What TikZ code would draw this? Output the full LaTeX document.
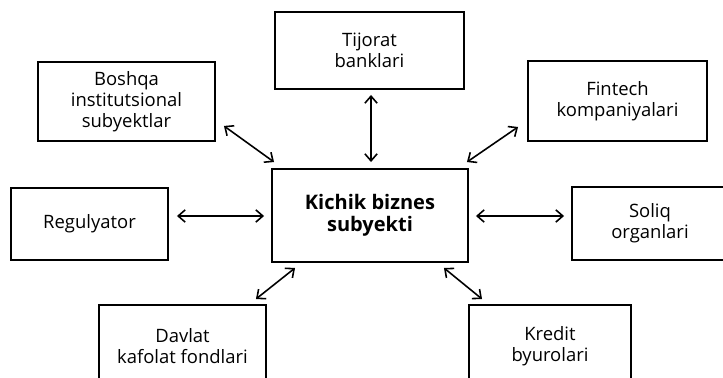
\documentclass[tikz,border=0pt]{standalone}
\usepackage{fontspec}
\setmainfont{Open Sans}
\usetikzlibrary{arrows.meta}

\begin{document}
\begin{tikzpicture}[
    x=0.02cm, y=-0.02cm,
    font=\fontsize{10.5}{11.8}\selectfont,
    box/.style={draw, line width=1.1pt, align=center, inner sep=0pt},
    hub/.style={box, font=\fontsize{11.4}{12.8}\selectfont\bfseries},
    link/.style={line width=0.9pt, {Straight Barb[length=4pt,width=7pt]}-{Straight Barb[length=4pt,width=7pt]}},
]

% Frame
\useasboundingbox (0,0) rectangle (723,378);

% Central node
\node[hub, minimum width=196*0.02cm, minimum height=93*0.02cm] (kbs) at (370,215.5) {Kichik biznes\\subyekti};

% Surrounding nodes
\node[box, minimum width=189*0.02cm, minimum height=77*0.02cm] (tijorat) at (369.5,50.5) {Tijorat\\banklari};
\node[box, minimum width=177*0.02cm, minimum height=79*0.02cm] (boshqa) at (126.5,101.5) {Boshqa\\institutsional\\subyektlar};
\node[box, minimum width=179*0.02cm, minimum height=80*0.02cm] (fintech) at (617.5,101) {Fintech\\kompaniyalari};
\node[box, minimum width=157*0.02cm, minimum height=72*0.02cm] (regul) at (89.5,224) {Regulyator};
\node[box, minimum width=156*0.02cm, minimum height=73*0.02cm] (soliq) at (650,223.5) {Soliq\\organlari};
\node[box, minimum width=167*0.02cm, minimum height=82*0.02cm] (davlat) at (182.5,346) {Davlat\\kafolat fondlari};
\node[box, minimum width=162*0.02cm, minimum height=82*0.02cm] (kredit) at (550,346) {Kredit\\byurolari};

% Links
\draw[link] ([shift={(8,-16)}]boshqa.south east) -- ([shift={(3,-6)}]kbs.north west);
\draw[link] ([shift={(1.5,5)}]tijorat.south) -- ([shift={(1,-6)}]kbs.north);
\draw[link] ([shift={(-9,-15)}]fintech.south west) -- ([shift={(-2,-6)}]kbs.north east);
\draw[link] ([shift={(8,-8)}]regul.east) -- ([shift={(-7,0.5)}]kbs.west);
\draw[link] ([shift={(7,0.5)}]kbs.east) -- ([shift={(-7,-7.5)}]soliq.west);
\draw[link] ([shift={(24,5)}]kbs.south west) -- ([shift={(-11,-5)}]davlat.north east);
\draw[link] ([shift={(-25,5)}]kbs.south east) -- ([shift={(14,-5)}]kredit.north west);

\end{tikzpicture}
\end{document}
